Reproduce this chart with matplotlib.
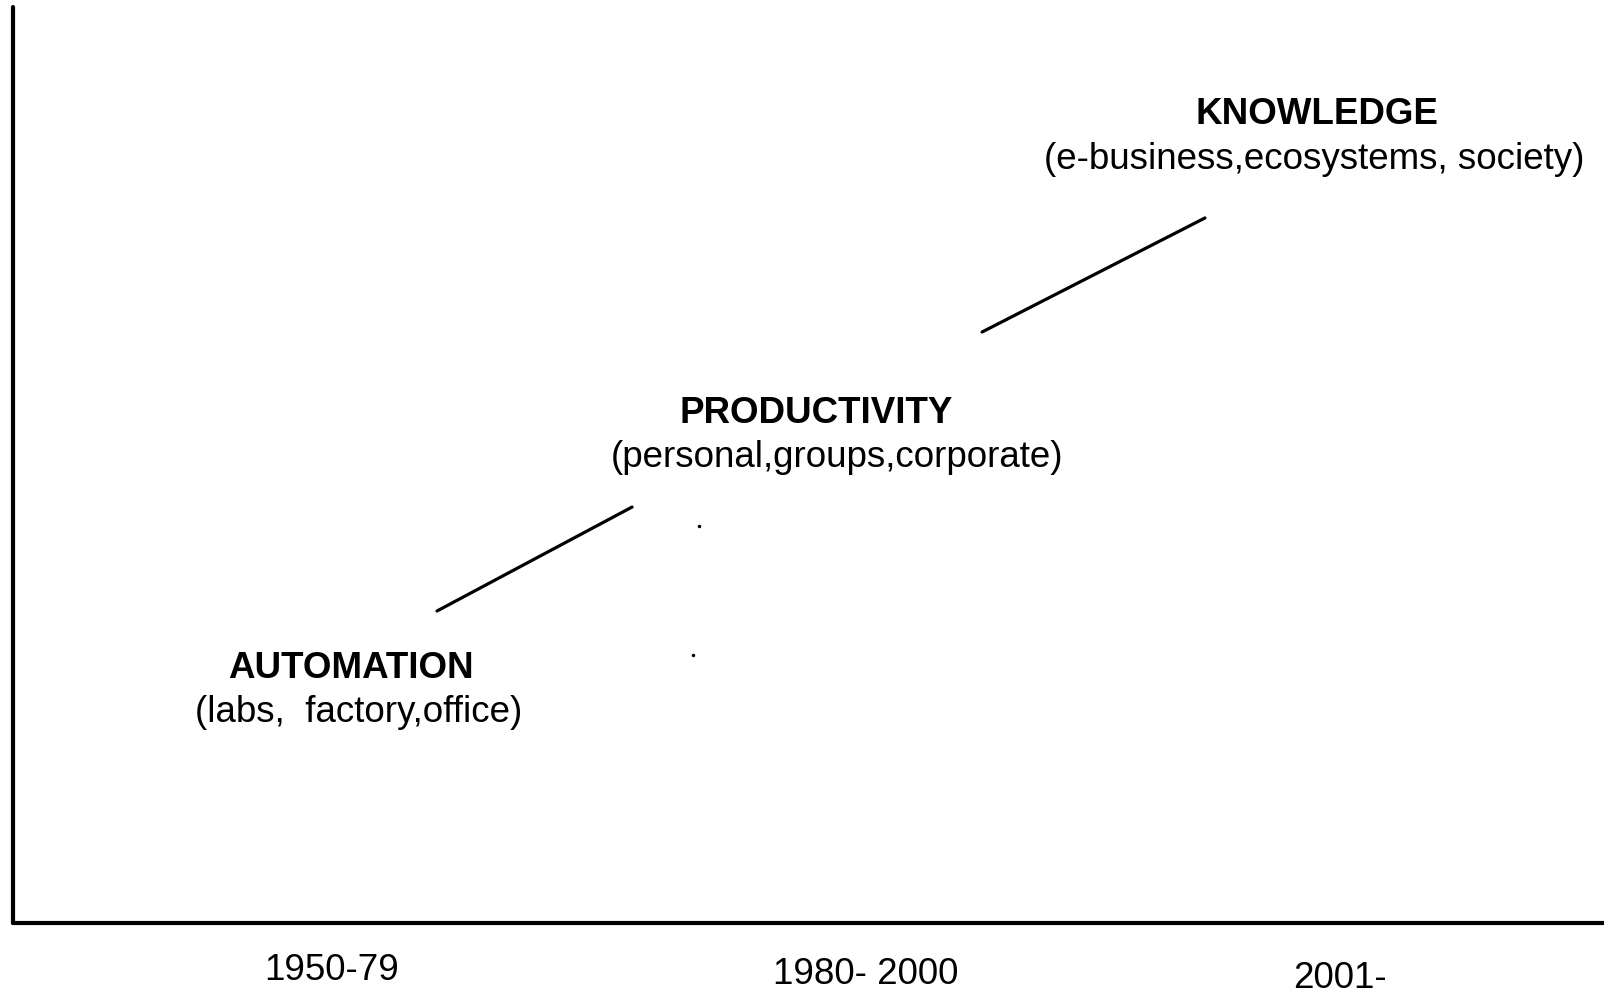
import matplotlib; matplotlib.use("Agg")
import matplotlib.pyplot as plt

plt.rcParams["font.family"] = ["Liberation Sans", "DejaVu Sans"]

# eras along the bottom
eras = ["1950-79", "1980- 2000", "2001-"]
era_x = [2.005, 5.361, 8.341]
era_y = [-0.524, -0.557, -0.611]

# stage headings + their sub-lines
stages = ["AUTOMATION", "PRODUCTIVITY", "KNOWLEDGE"]
stage_sub = ["(labs,  factory,office)", "(personal,groups,corporate)",
             "(e-business,ecosystems, society)"]
stage_x = [2.124, 5.047, 8.196]
stage_y = [2.773, 5.557, 8.821]
sub_x = [2.175, 5.179, 8.177]
sub_y = [2.293, 5.087, 8.330]

# the two rising strokes between stages
rise1_x = [2.665, 3.891]
rise1_y = [3.406, 4.541]
rise2_x = [6.091, 7.492]
rise2_y = [6.452, 7.697]

# stray specks from the scan
speck_x = [4.312, 4.274]
speck_y = [4.334, 2.926]

W, H = 1604, 993
fig = plt.figure(figsize=(W/100, H/100), dpi=100)
ax = fig.add_axes([13/W, (H-923)/H, (W-13)/W, (923-7)/H])
ax.set_xlim(0, 10); ax.set_ylim(0, 10)
for s in ("top", "right"): ax.spines[s].set_visible(False)
for s in ("left", "bottom"):
    ax.spines[s].set_linewidth(3.0); ax.spines[s].set_capstyle("round")
ax.set_xticks([]); ax.set_yticks([])

ax.plot(rise1_x, rise1_y, color="black", lw=2.3, solid_capstyle="round")
ax.plot(rise2_x, rise2_y, color="black", lw=2.3, solid_capstyle="round")
ax.plot(speck_x, speck_y, "o", color="black", ms=1.5, ls="none")

fs = 26.5
for t, x, y in zip(stages, stage_x, stage_y):
    ax.text(x, y, t, ha="center", va="center", fontsize=fs, fontweight="bold")
for t, x, y in zip(stage_sub, sub_x, sub_y):
    ax.text(x, y, t, ha="center", va="center", fontsize=fs)
for t, x, y in zip(eras, era_x, era_y):
    ax.text(x, y, t, ha="center", va="center", fontsize=fs, clip_on=False)

fig.savefig("out.png", dpi=100, facecolor="white")
